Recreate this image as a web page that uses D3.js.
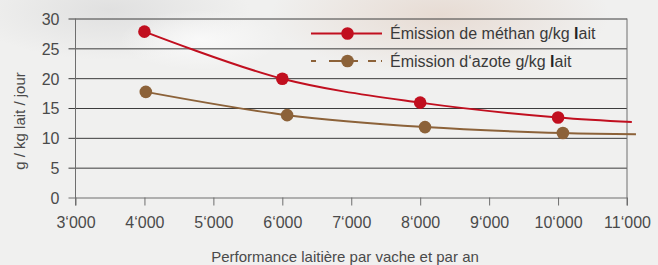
<!DOCTYPE html>
<html>
<head>
<meta charset="utf-8">
<script src="https://cdn.jsdelivr.net/npm/d3@7"></script>
<style>
    html, body { margin: 0; padding: 0; background: #f0f0ef; }
    svg { display: block; font-family: "Liberation Sans", Arial, sans-serif; }
</style>
</head>
<body>
<svg id="chart" width="658" height="265"></svg>
<script>
// values
const methanePerf = [4000, 6000, 8000, 10000, 11070];
const methaneValues = [27.8, 19.9, 15.9, 13.4, 12.65];
const azotePerf = [4020, 6070, 8070, 10070, 11130];
const azoteValues = [17.7, 13.8, 11.8, 10.8, 10.6];
const xTicks = [3000, 4000, 5000, 6000, 7000, 8000, 9000, 10000, 11000];
const yTicks = [0, 5, 10, 15, 20, 25, 30];
const seriesNames = ["Émission de méthan g/kg ", "Émission d‘azote g/kg "];

const cfg = {
    left: 75.5,
    right: 627,
    top: 18.5,
    bottom: 197.5,
    red: "#c10f1f",
    brown: "#8c6239",
    dotR: 6.3,
    grid: "#3c3c3c",
    axis: "#6e6e6e",
    text: "#4a4a4a",
};

const svg = d3.select("#chart");

// soft photo-like background
var defs = svg.append("defs");
function blob(id, color, op) {
    var g = defs.append("radialGradient").attr("id", id);
    g.append("stop").attr("offset", "0%").attr("stop-color", color).attr("stop-opacity", op);
    g.append("stop").attr("offset", "100%").attr("stop-color", color).attr("stop-opacity", 0);
}
blob("warm", "#e6d9d0", 0.9);
blob("grey", "#dcdcdc", 0.8);
blob("light", "#fafafa", 0.9);
svg.append("rect").attr("width", 658).attr("height", 265).attr("fill", "#f0f0ef");
svg.append("ellipse").attr("cx", 440).attr("cy", 15).attr("rx", 170).attr("ry", 60).attr("fill", "url(#warm)");
svg.append("ellipse").attr("cx", 110).attr("cy", 10).attr("rx", 140).attr("ry", 50).attr("fill", "url(#grey)");
svg.append("ellipse").attr("cx", 200).attr("cy", 40).attr("rx", 80).attr("ry", 30).attr("fill", "url(#light)");

const x = d3.scaleLinear().domain([3000, 11000]).range([cfg.left, cfg.right]);
const y = d3.scaleLinear().domain([0, 30]).range([cfg.bottom, cfg.top]);

const fmt = d3.formatLocale({
    decimal: ".",
    thousands: "‘",
    grouping: [3],
    currency: ["", ""],
}).format(",");

// y axis with gridlines
var yAxis = svg.append("g")
    .attr("transform", "translate(" + cfg.left + ",0)")
    .call(
        d3.axisLeft(y)
            .tickValues(yTicks)
            .tickSize(-(cfg.right - cfg.left))
            .tickPadding(16)
    );
yAxis.select(".domain").remove();
yAxis.selectAll(".tick line")
    .attr("x1", -7)
    .attr("stroke", d => (d === 0 ? cfg.axis : cfg.grid));
yAxis.selectAll(".tick text")
    .attr("fill", cfg.text)
    .attr("font-size", 16)
    .attr("dy", "0.37em");

// x axis
var xAxis = svg.append("g")
    .attr("transform", "translate(0," + cfg.bottom + ")")
    .call(
        d3.axisBottom(x)
            .tickValues(xTicks)
            .tickSize(8)
            .tickPadding(11)
            .tickFormat(fmt)
    );
xAxis.select(".domain").remove();
xAxis.selectAll(".tick line").attr("stroke", cfg.axis);
xAxis.selectAll(".tick text")
    .attr("fill", cfg.text)
    .attr("font-size", 16);

// vertical frame lines
[cfg.left, cfg.right].forEach(px => {
    svg.append("line")
        .attr("x1", px).attr("x2", px)
        .attr("y1", cfg.top).attr("y2", cfg.bottom + 8)
        .attr("stroke", cfg.axis);
});

// axis titles
svg.append("text")
    .attr("transform", "translate(25," + 121 + ") rotate(-90)")
    .attr("text-anchor", "middle")
    .attr("font-size", 15)
    .attr("fill", cfg.text)
    .text("g / kg lait / jour");

svg.append("text")
    .attr("x", 345)
    .attr("y", 262)
    .attr("text-anchor", "middle")
    .attr("font-size", 15)
    .attr("fill", cfg.text)
    .text("Performance laitière par vache et par an");

// series
const series = [
    { xs: azotePerf, ys: azoteValues, color: cfg.brown },
    { xs: methanePerf, ys: methaneValues, color: cfg.red },
];

const line = d3.line()
    .x(d => x(d[0]))
    .y(d => y(d[1]))
    .curve(d3.curveCatmullRom.alpha(0.5));

series.forEach(s => {
    var pts = s.xs.map((v, i) => [v, s.ys[i]]);
    svg.append("path")
        .datum(pts)
        .attr("d", line)
        .attr("fill", "none")
        .attr("stroke", s.color)
        .attr("stroke-width", 2);
    // last point is only where the line ends, no marker
    svg.append("g")
        .selectAll("circle")
        .data(pts.slice(0, -1))
        .join("circle")
        .attr("cx", d => x(d[0]))
        .attr("cy", d => y(d[1]))
        .attr("r", cfg.dotR)
        .attr("fill", s.color);
});

// legend
var legend = svg.append("g");
var rows = [
    { name: seriesNames[0], color: cfg.red, y: 33.5, dash: null },
    { name: seriesNames[1], color: cfg.brown, y: 61, dash: "5,13,29,10,8" },
];
rows.forEach(r => {
    legend.append("line")
        .attr("x1", 311).attr("x2", 382)
        .attr("y1", r.y).attr("y2", r.y)
        .attr("stroke", r.color)
        .attr("stroke-width", 2)
        .attr("stroke-dasharray", r.dash);
    legend.append("circle")
        .attr("cx", 347.5)
        .attr("cy", r.y)
        .attr("r", cfg.dotR)
        .attr("fill", r.color);
    var t = legend.append("text")
        .attr("x", 390)
        .attr("y", r.y + 5.5)
        .attr("font-size", 16)
        .attr("fill", "#3a3a3a");
    t.append("tspan").text(r.name);
    t.append("tspan").attr("font-weight", "bold").attr("fill", "#222").text("l");
    t.append("tspan").text("ait");
});
</script>
</body>
</html>
